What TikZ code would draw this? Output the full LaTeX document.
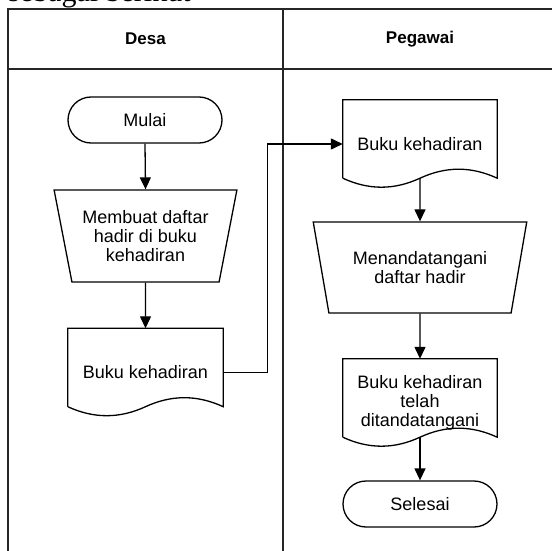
\documentclass[tikz,border=0pt]{standalone}
\usepackage{fontspec}
\setmainfont{Liberation Sans}
\newfontfamily\serifteks{Liberation Serif}
\usepackage{tikz}
\usetikzlibrary{shapes.geometric,arrows.meta,calc}

\tikzset{
	garis/.style={line width=1.3pt,black},
	bingkai/.style={line width=1.6pt,black!85},
	panah/.style={garis,-{Triangle[length=12pt,width=11pt]}},
	isi/.style={font=\fontsize{18}{19}\selectfont,align=center},
	terminal/.style={isi,garis,draw,rectangle,rounded corners=23pt,minimum width=154pt,minimum height=46pt},
	manual/.style={isi,garis,draw,trapezium,shape border rotate=180,trapezium stretches=true,inner sep=0pt},
	dokumen/.style={isi,rectangle,minimum width=154pt,minimum height=88pt,inner sep=0pt},
	judul/.style={font=\bfseries\fontsize{17}{20}\selectfont}
}

% bentuk dokumen: atas lurus, bawah bergelombang
\newcommand{\gelombang}[1]{
	\draw[garis] ($(#1.south west)+(0,-10)$) -- (#1.north west) -- (#1.north east) -- ($(#1.south east)+(0,-10)$)
		.. controls +(-26,-12) and +(26,-12) .. ($(#1.south)+(0,-10)$)
		.. controls +(-26,12) and +(26,12) .. ($(#1.south west)+(0,-10)$);
	\coordinate (#1-bawah) at ($(#1.south)+(0,-10)$);
}

\begin{document}
\begin{tikzpicture}[x=1pt,y=-1pt]
	\useasboundingbox (0,0) rectangle (552,551);
	\node[anchor=base west,inner sep=0pt,font=\serifteks\fontsize{30}{30}\selectfont] (pengantar) at (8,1.5) {sebagai berikut};

	% kolom
	\draw[bingkai] (8,551) -- (8,9) -- (552,9);
	\draw[bingkai] (8,69) -- (552,69);
	\draw[bingkai] (283,9) -- (283,551);
	\node[judul] (desa) at (145.5,39) {Desa};
	\node[judul] (pegawai) at (420,39) {Pegawai};

	% Desa
	\node[terminal] (mulai) at (145,120) {Mulai};
	\node[manual,minimum width=183pt,minimum height=92pt,trapezium left angle=73.4,trapezium right angle=73.4] (buat) at (145.5,236) {Membuat daftar\\hadir di buku\\kehadiran};
	\node[dokumen,minimum width=155pt] (buku1) at (145.5,372.5) {Buku kehadiran};
	\gelombang{buku1}

	% Pegawai
	\node[dokumen] (buku2) at (420,144) {Buku kehadiran};
	\gelombang{buku2}
	\node[manual,minimum width=214pt,minimum height=91pt,trapezium left angle=70.3,trapezium right angle=70.3] (tanda) at (420,267.5) {Menandatangani\\daftar hadir};
	\node[dokumen] (buku3) at (420,403) {Buku kehadiran\\telah\\ditandatangani};
	\gelombang{buku3}
	\node[terminal] (selesai) at (420,504) {Selesai};

	\draw[panah] (mulai.south) -- (buat.north);
	\draw[panah] (buat.south) -- (buku1.north);
	\draw[panah] (buku1.east) -- ++(44,0) |- (buku2.west);
	\draw[panah] (buku2-bawah) -- (tanda.north);
	\draw[panah] (tanda.south) -- (buku3.north);
	\draw[panah] (buku3-bawah) -- (selesai.north);

\end{tikzpicture}
\end{document}
